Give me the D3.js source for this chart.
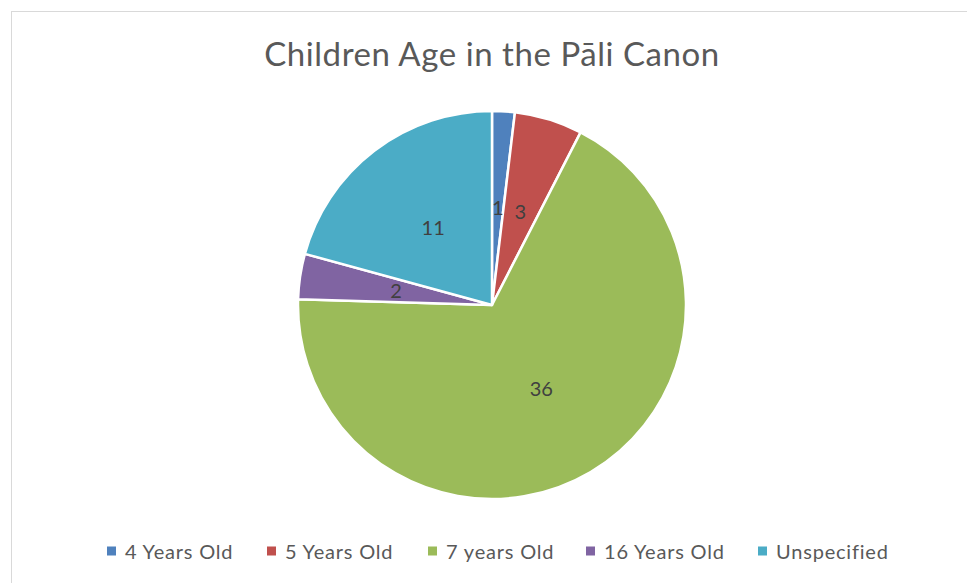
<!DOCTYPE html>
<html>
<head>
<meta charset="utf-8">
<script src="https://cdn.jsdelivr.net/npm/d3@7"></script>
<style>
  html, body { margin: 0; padding: 0; background: #fff; }
  svg { display: block; }
  text { font-family: Lato, "Open Sans", "Noto Sans", sans-serif; }
</style>
</head>
<body>
<svg id="chart" width="967" height="583"></svg>
<script>
// Chart data
const categories = ["4 Years Old", "5 Years Old", "7 years Old", "16 Years Old", "Unspecified"];
const counts = [1, 3, 36, 2, 11];
const sliceColors = ["#4F81BD", "#C0504D", "#9BBB59", "#8064A2", "#4BACC6"];
const chartTitle = "Children Age in the Pāli Canon";

const width = 967, height = 583;
const cx = 492, cy = 305, radius = 194;

const svg = d3.select("#chart");

// Chart area frame
svg.append("rect")
  .attr("x", 11.5).attr("y", 11.5)
  .attr("width", width + 20).attr("height", height + 20)
  .attr("fill", "#fff")
  .attr("stroke", "#d9d9d9").attr("stroke-width", 1);

// Title
svg.append("text")
  .attr("x", cx).attr("y", 66)
  .attr("text-anchor", "middle")
  .attr("font-size", 33)
  .attr("letter-spacing", 0.55)
  .attr("fill", "#595959")
  .text(chartTitle);

const data = categories.map((c, i) => ({ category: c, value: counts[i], color: sliceColors[i] }));

const pie = d3.pie().value(d => d.value).sort(null);
const arc = d3.arc().innerRadius(0).outerRadius(radius);
const labelArc = d3.arc().innerRadius(0).outerRadius(radius);

const g = svg.append("g").attr("transform", `translate(${cx},${cy})`);
const arcs = pie(data);

g.selectAll("path.slice")
  .data(arcs)
  .join("path")
  .attr("class", "slice")
  .attr("d", arc)
  .attr("fill", d => d.data.color)
  .attr("stroke", "#fff")
  .attr("stroke-width", 2.5)
  .attr("stroke-linejoin", "round");

g.selectAll("text.value")
  .data(arcs)
  .join("text")
  .attr("class", "value")
  .attr("transform", d => `translate(${labelArc.centroid(d)})`)
  .attr("text-anchor", "middle")
  .attr("dy", "0.35em")
  .attr("font-size", 20)
  .attr("fill", "#404040")
  .text(d => d.data.value);

// Legend
const legendX = [107, 267, 428, 586, 758];
const legend = svg.append("g");
const items = legend.selectAll("g.item")
  .data(data)
  .join("g")
  .attr("class", "item")
  .attr("transform", (d, i) => `translate(${legendX[i]},551)`);
items.append("rect")
  .attr("x", 0).attr("y", -4.5)
  .attr("width", 9).attr("height", 9)
  .attr("fill", d => d.color);
items.append("text")
  .attr("x", 18).attr("y", 7.5)
  .attr("font-size", 20)
  .attr("letter-spacing", 0.8)
  .attr("fill", "#595959")
  .text(d => d.category);
</script>
</body>
</html>
